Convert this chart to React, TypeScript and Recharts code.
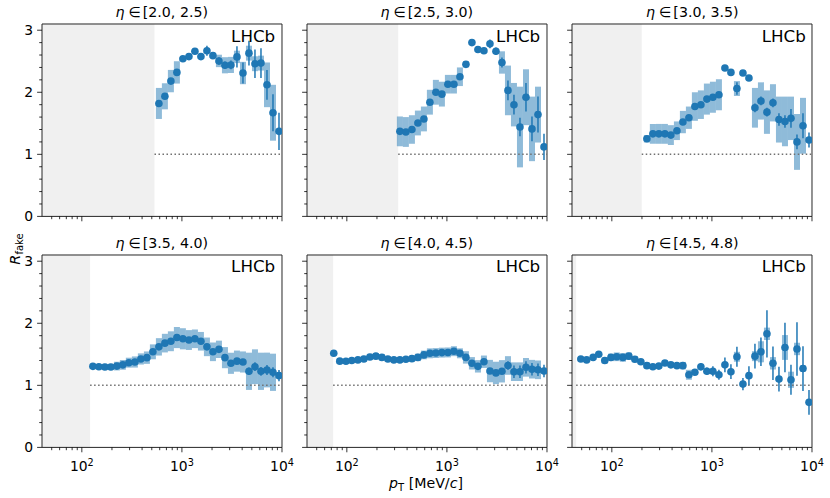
import React from 'react';
import {
  ComposedChart,
  XAxis,
  YAxis,
  Scatter,
  ErrorBar,
  ReferenceArea,
  ReferenceLine,
} from 'recharts';

// common pT bin centres [MeV/c]
const ptBins = [
  43, 49, 56, 65, 74, 85, 98, 112, 129, 148, 170, 195, 224, 257, 295, 339, 389, 447, 513, 589,
  676, 776, 891, 1023, 1175, 1349, 1549, 1778, 2042, 2344, 2692, 3090, 3548, 4074, 4677, 5370,
  6166, 7079, 8128, 9333,
];

const etaLabels = ['[2.0, 2.5)', '[2.5, 3.0)', '[3.0, 3.5)', '[3.5, 4.0)', '[4.0, 4.5)', '[4.5, 4.8)'];
// lower pT edge of the acceptance (shaded region ends here)
const acceptanceEdge = [532, 326, 199, 121, 73, 44];

const eta1Value = [1.82, 1.935, 2.18, 2.32, 2.54, 2.575, 2.66, 2.575, 2.67, 2.59, 2.505, 2.435, 2.44, 2.57, 2.31, 2.63, 2.46, 2.47, 2.12, 1.67, 1.37];
const eta1Stat = [0.04, 0.04, 0.04, 0.04, 0.03, 0.03, 0.05, 0.04, 0.08, 0.04, 0.06, 0.06, 0.07, 0.17, 0.17, 0.2, 0.23, 0.24, 0.24, 0.3, 0.3];
const eta1Sys = [0.25, 0.21, 0.18, 0.18, 0.03, 0.03, 0.03, 0.03, 0.03, 0.03, 0.1, 0.13, 0.13, 0.1, 0.18, 0.12, 0.12, 0.12, 0.36, 0.45, 0.68];

const eta2Value = [1.37, 1.36, 1.4, 1.505, 1.57, 1.84, 2.0, 1.97, 2.13, 2.13, 2.25, 2.45, 2.8, 2.69, 2.67, 2.78, 2.66, 2.48, 2.03, 1.8, 1.44, 1.92, 1.41, 1.64, 1.12];
const eta2Stat = [0.03, 0.03, 0.03, 0.03, 0.03, 0.03, 0.03, 0.03, 0.03, 0.03, 0.04, 0.04, 0.05, 0.05, 0.05, 0.07, 0.06, 0.08, 0.16, 0.16, 0.15, 0.23, 0.2, 0.29, 0.21];
const eta2Sys = [0.24, 0.24, 0.23, 0.2, 0.2, 0.2, 0.2, 0.2, 0.15, 0.15, 0.15, 0.05, 0.03, 0.03, 0.03, 0.03, 0.03, 0.18, 0.4, 0.35, 0.65, 0.45, 0.52, 0.45, 0.8];

const eta3Value = [1.25, 1.33, 1.33, 1.33, 1.31, 1.38, 1.52, 1.59, 1.77, 1.8, 1.89, 1.92, 1.96, 2.39, 2.32, 2.06, 2.31, 2.23, 1.75, 1.86, 1.68, 1.83, 1.56, 1.53, 1.58, 1.2, 1.46, 1.23];
const eta3Stat = [0.03, 0.03, 0.03, 0.03, 0.03, 0.03, 0.03, 0.03, 0.03, 0.03, 0.03, 0.03, 0.03, 0.03, 0.04, 0.1, 0.04, 0.05, 0.07, 0.07, 0.07, 0.07, 0.1, 0.1, 0.15, 0.12, 0.2, 0.12];
const eta3Sys = [0.06, 0.16, 0.16, 0.16, 0.16, 0.15, 0.18, 0.18, 0.23, 0.23, 0.25, 0.25, 0.25, 0.03, 0.03, 0.12, 0.03, 0.03, 0.32, 0.3, 0.35, 0.3, 0.37, 0.4, 0.35, 0.45, 0.45, 0.45];

const eta4Value = [1.306, 1.3, 1.296, 1.296, 1.31, 1.33, 1.365, 1.376, 1.425, 1.446, 1.54, 1.62, 1.68, 1.71, 1.77, 1.75, 1.73, 1.75, 1.71, 1.62, 1.54, 1.58, 1.446, 1.355, 1.39, 1.376, 1.226, 1.3, 1.226, 1.247, 1.21, 1.156];
const eta4Stat = [0.02, 0.02, 0.02, 0.02, 0.02, 0.02, 0.02, 0.02, 0.02, 0.02, 0.02, 0.02, 0.02, 0.02, 0.02, 0.02, 0.02, 0.02, 0.02, 0.02, 0.03, 0.03, 0.03, 0.03, 0.04, 0.04, 0.06, 0.07, 0.07, 0.08, 0.08, 0.09];
const eta4Sys = [0.04, 0.04, 0.05, 0.05, 0.07, 0.08, 0.08, 0.09, 0.09, 0.1, 0.12, 0.14, 0.15, 0.16, 0.17, 0.17, 0.16, 0.15, 0.15, 0.15, 0.15, 0.14, 0.17, 0.17, 0.17, 0.17, 0.3, 0.28, 0.3, 0.28, 0.3, 0.3];

const eta5Value = [1.516, 1.39, 1.387, 1.4, 1.41, 1.425, 1.457, 1.47, 1.45, 1.425, 1.41, 1.41, 1.42, 1.43, 1.45, 1.49, 1.516, 1.52, 1.527, 1.53, 1.55, 1.516, 1.45, 1.355, 1.306, 1.38, 1.23, 1.2, 1.226, 1.32, 1.22, 1.22, 1.29, 1.26, 1.25, 1.23];
const eta5Stat = [0.02, 0.02, 0.02, 0.02, 0.02, 0.02, 0.02, 0.02, 0.02, 0.02, 0.02, 0.02, 0.02, 0.02, 0.02, 0.02, 0.02, 0.02, 0.02, 0.02, 0.02, 0.02, 0.04, 0.04, 0.04, 0.04, 0.04, 0.04, 0.04, 0.07, 0.1, 0.1, 0.1, 0.1, 0.1, 0.1];
const eta5Sys = [0.01, 0.04, 0.04, 0.04, 0.04, 0.05, 0.05, 0.05, 0.05, 0.04, 0.04, 0.04, 0.04, 0.05, 0.06, 0.07, 0.08, 0.08, 0.08, 0.08, 0.08, 0.08, 0.1, 0.1, 0.1, 0.1, 0.18, 0.18, 0.18, 0.15, 0.15, 0.15, 0.15, 0.15, 0.15, 0.15];

const eta6Value = [1.425, 1.41, 1.45, 1.5, 1.4, 1.45, 1.46, 1.45, 1.47, 1.42, 1.38, 1.317, 1.3, 1.31, 1.36, 1.33, 1.317, 1.317, 1.17, 1.21, 1.3, 1.226, 1.226, 1.17, 1.33, 1.22, 1.46, 1.02, 1.156, 1.47, 1.54, 1.83, 1.355, 1.1, 1.61, 1.09, 1.586, 1.27, 0.726];
const eta6Stat = [0.02, 0.02, 0.02, 0.02, 0.02, 0.02, 0.02, 0.02, 0.02, 0.02, 0.02, 0.02, 0.02, 0.02, 0.02, 0.02, 0.02, 0.02, 0.05, 0.04, 0.06, 0.06, 0.08, 0.08, 0.12, 0.12, 0.16, 0.1, 0.15, 0.2, 0.23, 0.38, 0.27, 0.2, 0.4, 0.24, 0.43, 0.36, 0.2];
const eta6Sys = [0.03, 0.03, 0.03, 0.03, 0.05, 0.06, 0.07, 0.07, 0.06, 0.05, 0.04, 0.05, 0.04, 0.04, 0.04, 0.04, 0.04, 0.06, 0.08, 0.04, 0.03, 0.03, 0.03, 0.03, 0.03, 0.03, 0.08, 0.03, 0.03, 0.08, 0.17, 0.1, 0.1, 0.04, 0.2, 0.13, 0.1, 0.05, 0.1];

const xTicks = [50, 60, 70, 80, 90, 100, 200, 300, 400, 500, 600, 700, 800, 900, 1000, 2000, 3000, 4000, 5000, 6000, 7000, 8000, 9000, 10000];
const xMajor = [100, 1000, 10000];
const xExponent = ['2', '3', '4'];
const yTicks = [0, 0.2, 0.4, 0.6, 0.8, 1, 1.2, 1.4, 1.6, 1.8, 2, 2.2, 2.4, 2.6, 2.8, 3];
const yMajor = [0, 1, 2, 3];

const panels = [
  { value: eta1Value, stat: eta1Stat, sys: eta1Sys },
  { value: eta2Value, stat: eta2Stat, sys: eta2Sys },
  { value: eta3Value, stat: eta3Stat, sys: eta3Sys },
  { value: eta4Value, stat: eta4Stat, sys: eta4Sys },
  { value: eta5Value, stat: eta5Stat, sys: eta5Sys },
  { value: eta6Value, stat: eta6Stat, sys: eta6Sys },
];

// layout
const FONT = 'DejaVu Sans';
const BLUE = '#1f77b4';
const PANEL_W = 240;
const PANEL_H = 192.4;
const PANEL_LEFT = [41.7, 306.7, 572.3];
const PANEL_TOP = [24.3, 254.5];
const Y_AXIS_W = 45;
const X_AXIS_H = 30;
const M_TOP = 10;
const M_RIGHT = 20;
const BIN_HALF = Math.pow(10, 0.03);

const XTick = (props: any) => {
  const { x, y, payload, showLabel } = props;
  const idx = xMajor.indexOf(payload.value);
  const major = idx >= 0;
  return (
    <g>
      <line x1={x} x2={x} y1={y} y2={y + (major ? 4.9 : 2.8)} stroke="#000" strokeWidth={0.8} />
      {major && showLabel && (
        <text x={x} y={y + 24} textAnchor="middle" fontSize={13.9} fontFamily={FONT} fill="#000">
          10
          <tspan dy={-5.5} fontSize={9.7}>
            {xExponent[idx]}
          </tspan>
        </text>
      )}
    </g>
  );
};

const YTick = (props: any) => {
  const { x, y, payload, showLabel } = props;
  const major = yMajor.includes(payload.value);
  return (
    <g>
      <line x1={x - (major ? 4.9 : 2.8)} x2={x} y1={y} y2={y} stroke="#000" strokeWidth={0.8} />
      {major && showLabel && (
        <text x={x - 9} y={y + 5} textAnchor="end" fontSize={13.9} fontFamily={FONT} fill="#000">
          {payload.value}
        </text>
      )}
    </g>
  );
};

const Panel = ({ index }: { index: number }) => {
  const col = index % 3;
  const row = Math.floor(index / 3);
  const p = panels[index];
  const edge = acceptanceEdge[index];
  const offset = ptBins.length - p.value.length;
  const points = p.value.map((v, i) => ({ x: ptBins[offset + i], y: v, stat: p.stat[i], sys: p.sys[i] }));

  return (
    <div style={{ position: 'absolute', left: PANEL_LEFT[col] - Y_AXIS_W, top: PANEL_TOP[row] - M_TOP }}>
      <ComposedChart
        width={Y_AXIS_W + PANEL_W + M_RIGHT}
        height={M_TOP + PANEL_H + X_AXIS_H}
        margin={{ top: M_TOP, right: M_RIGHT, bottom: 0, left: 0 }}
      >
        <XAxis
          dataKey="x"
          type="number"
          scale="log"
          domain={[40, 10000]}
          allowDataOverflow
          ticks={xTicks}
          interval={0}
          tickSize={0}
          tickMargin={0}
          tickLine={false}
          axisLine={false}
          height={X_AXIS_H}
          tick={(t: any) => <XTick {...t} showLabel={row === 1} />}
        />
        <YAxis
          type="number"
          domain={[0, 3.1]}
          allowDataOverflow
          ticks={yTicks}
          interval={0}
          tickSize={0}
          tickMargin={0}
          tickLine={false}
          axisLine={false}
          width={Y_AXIS_W}
          tick={(t: any) => <YTick {...t} showLabel={col === 0} />}
        />
        <ReferenceArea x1={40} x2={edge} y1={0} y2={3.1} fill="#f0f0f0" fillOpacity={1} stroke="none" />
        {points.map((pt, i) => (
          <ReferenceArea
            key={i}
            x1={pt.x / BIN_HALF}
            x2={pt.x * BIN_HALF}
            y1={pt.y - pt.sys}
            y2={pt.y + pt.sys}
            fill={BLUE}
            fillOpacity={0.5}
            stroke="none"
          />
        ))}
        <ReferenceLine
          segment={[{ x: edge, y: 1 }, { x: 10000, y: 1 }]}
          stroke="#707070"
          strokeWidth={1.5}
          strokeDasharray="1.5 2.5"
        />
        <Scatter
          data={points}
          dataKey="y"
          isAnimationActive={false}
          shape={(s: any) => <circle cx={s.cx} cy={s.cy} r={3.8} fill={BLUE} />}
        >
          <ErrorBar dataKey="stat" direction="y" width={0} stroke={BLUE} strokeWidth={1.5} />
        </Scatter>
        <ReferenceArea x1={40} x2={10000} y1={0} y2={3.1} fill="none" stroke="#262626" strokeWidth={1} />
      </ComposedChart>
    </div>
  );
};

const App: React.FC = () => {
  return (
    <div style={{ position: 'absolute', left: 0, top: 0, width: 830, height: 498, background: '#fff' }}>
      {panels.map((_, i) => (
        <Panel key={i} index={i} />
      ))}
      <svg width={830} height={498} style={{ position: 'absolute', left: 0, top: 0, pointerEvents: 'none' }}>
        {etaLabels.map((lab, i) => {
          const col = i % 3;
          const row = Math.floor(i / 3);
          return (
            <g key={i}>
              <text
                x={PANEL_LEFT[col] + PANEL_W / 2}
                y={PANEL_TOP[row] - 7}
                textAnchor="middle"
                fontSize={14.2}
                fontFamily={FONT}
                fill="#000"
              >
                <tspan fontStyle="italic">η</tspan>
                <tspan dx={4}>∈</tspan>
                <tspan dx={2}>{lab}</tspan>
              </text>
              <text
                x={PANEL_LEFT[col] + PANEL_W - 6.5}
                y={PANEL_TOP[row] + 17.4}
                textAnchor="end"
                fontSize={16.7}
                fontFamily={FONT}
                fill="#000"
              >
                LHCb
              </text>
            </g>
          );
        })}
        <text x={20} y={249} transform="rotate(-90, 20, 249)" textAnchor="middle" fontSize={14.5} fontFamily={FONT} fill="#000">
          <tspan fontStyle="italic">R</tspan>
          <tspan dy={3} fontSize={10}>fake</tspan>
        </text>
        <text x={426} y={488} textAnchor="middle" fontSize={14.2} fontFamily={FONT} fill="#000">
          <tspan fontStyle="italic">p</tspan>
          <tspan dy={3} fontSize={10}>T</tspan>
          <tspan dy={-3}> [MeV/</tspan>
          <tspan fontStyle="italic">c</tspan>
          <tspan>]</tspan>
        </text>
      </svg>
    </div>
  );
};

export default App;
